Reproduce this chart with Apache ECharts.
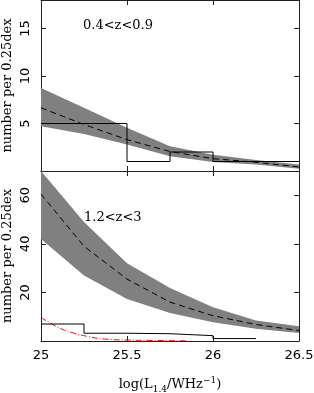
<!DOCTYPE html>
<html><head><meta charset="utf-8">
<script src="https://cdn.jsdelivr.net/npm/echarts@6/dist/echarts.min.js"></script>
<style>html,body{margin:0;padding:0;background:#fff}#c{width:314px;height:393px}</style>
</head><body><div id="c"></div>
<script>
// ---- data ----
const xNodes = [25, 25.25, 25.5, 25.75, 26, 26.25, 26.5];
const topHigh = [8.75, 6.65, 4.55, 2.6, 1.7, 1.15, 0.68];
const topLow  = [4.7, 3.9, 2.8, 1.55, 0.95, 0.68, 0.25];
const topDash = [6.65, 4.9, 3.3, 2.05, 1.3, 0.92, 0.42];
const topHistEdges  = [25, 25.5, 25.75, 26, 26.5];
const topHistCounts = [5, 1, 2, 1];

const botHigh = [77, 49, 32, 21.8, 13.9, 8.4, 6.1];
const botLow  = [42, 27, 17.3, 11.5, 7.7, 5.0, 3.3];
const botDash = [60.5, 39, 25.5, 16, 10.4, 6.8, 4.3];
const botHistEdges  = [25, 25.25, 25.5, 25.75, 26, 26.25];
const botHistCounts = [7, 3.2, 3.0, 2.2, 1.0];
const redX = [25, 25.1, 25.18, 25.27, 25.37, 25.5, 25.65, 25.85];
const redY = [9.7, 5.6, 3.5, 1.9, 0.8, 0.4, 0.2, 0.1];

const xTicks = ['25', '25.5', '26', '26.5'];
const topYTicks = ['5', '10', '15'];
const botYTicks = ['20', '40', '60'];
const topLabel = '0.4<z<0.9';
const botLabel = '1.2<z<3';
const yTitle = 'number per 0.25dex';

// ---- helpers ----
const pairs = (xs, ys) => xs.map((x, i) => [x, ys[i]]);
function histData(edges, counts) {
  const d = counts.map((c, i) => [edges[i], c]);
  d.push([edges[edges.length - 1], counts[counts.length - 1]]);
  return d;
}
const AX = '#222';
const SERIF = 'DejaVu Serif';
const SANS = 'DejaVu Sans';

function xAx(grid, pos, labels, name) {
  return {
    type: 'value', gridIndex: grid, position: pos, min: 25, max: 26.5, interval: 0.5,
    axisLine: { show: true, onZero: false, lineStyle: { color: AX, width: 1 } },
    axisTick: { show: true, inside: true, length: 5, lineStyle: { color: AX } },
    splitLine: { show: false },
    axisLabel: labels ? {
      show: true, margin: 8, color: '#000', fontFamily: SANS, fontSize: 13,
      formatter: v => { const s = String(v); return xTicks.includes(s) ? s : ''; }
    } : { show: false },
    name: name || '',
    nameLocation: 'middle', nameGap: 35, nameMoveOverlap: false,
    nameTextStyle: name ? {
      fontFamily: SERIF, fontSize: 13, color: '#000',
      rich: {
        n: { fontFamily: SERIF, fontSize: 13, color: '#000' },
        sub: { fontFamily: SERIF, fontSize: 9, color: '#000', padding: [9, 0, 0, 0] },
        sup: { fontFamily: SERIF, fontSize: 9, color: '#000', padding: [0, 0, 9, 0] }
      }
    } : {}
  };
}
function yAx(grid, pos, max, interval, labels, name) {
  return {
    type: 'value', gridIndex: grid, position: pos, min: 0, max: max, interval: interval,
    axisLine: { show: true, onZero: false, lineStyle: { color: AX, width: 1 } },
    axisTick: { show: true, inside: true, length: 5, lineStyle: { color: AX } },
    splitLine: { show: false },
    axisLabel: labels ? {
      show: true, rotate: 90, margin: 9, color: '#000', fontFamily: SANS, fontSize: 13,
      formatter: v => { const s = String(v); return labels.includes(s) ? s : ''; }
    } : { show: false },
    name: name || '', nameLocation: 'middle', nameGap: 27, nameRotate: 90, nameMoveOverlap: false,
    nameTextStyle: { fontFamily: SERIF, fontSize: 13, color: '#000' }
  };
}

function bandSeries(xi, yi, lo, hi) {
  const rows = xNodes.map((x, i) => [x, lo[i], hi[i]]);
  return {
    type: 'custom', xAxisIndex: xi, yAxisIndex: yi, data: rows, clip: true, silent: true, z: 1,
    encode: { x: 0, y: [1, 2] },
    renderItem: function (params, api) {
      if (params.dataIndex !== 0) return null;
      const upper = rows.map(r => api.coord([r[0], r[2]]));
      const lower = rows.map(r => api.coord([r[0], r[1]])).reverse();
      const pts = echarts.graphic.clipPointsByRect(upper.concat(lower), params.coordSys);
      return { type: 'polygon', shape: { points: pts }, style: { fill: '#808080', stroke: null } };
    }
  };
}
function dashSeries(xi, yi, ys) {
  return { type: 'line', xAxisIndex: xi, yAxisIndex: yi, data: pairs(xNodes, ys), showSymbol: false,
    lineStyle: { color: '#000', width: 1, type: [6, 4] }, clip: true, z: 3 };
}
function histSeries(xi, yi, edges, counts) {
  return { type: 'line', xAxisIndex: xi, yAxisIndex: yi, step: 'end', data: histData(edges, counts),
    showSymbol: false, lineStyle: { color: '#000', width: 1 }, clip: true, z: 4 };
}

const chart = echarts.init(document.getElementById('c'), null, { renderer: 'canvas' });
chart.setOption({
  animation: false,
  backgroundColor: '#fff',
  grid: [
    { left: 41, top: 0, width: 258, height: 171, containLabel: false, outerBoundsMode: 'none' },
    { left: 41, top: 171, width: 258, height: 170, containLabel: false, outerBoundsMode: 'none' }
  ],
  xAxis: [
    xAx(0, 'bottom', false),
    xAx(0, 'top', false),
    xAx(1, 'bottom', true, '{n|log(L}{sub|1.4}{n|/WHz}{sup|\u22121}{n|)}'),
    xAx(1, 'top', false)
  ],
  yAxis: [
    yAx(0, 'left', 18, 5, topYTicks, yTitle),
    yAx(0, 'right', 18, 5, null),
    yAx(1, 'left', 70, 20, botYTicks, yTitle),
    yAx(1, 'right', 70, 20, null)
  ],
  series: [
    bandSeries(0, 0, topLow, topHigh),
    dashSeries(0, 0, topDash),
    histSeries(0, 0, topHistEdges, topHistCounts),
    bandSeries(2, 2, botLow, botHigh),
    dashSeries(2, 2, botDash),
    histSeries(2, 2, botHistEdges, botHistCounts),
    { type: 'line', xAxisIndex: 2, yAxisIndex: 2, data: pairs(redX, redY), showSymbol: false, smooth: true,
      lineStyle: { color: '#ff0000', width: 1, type: [6, 2, 1, 2] }, clip: true, z: 2 }
  ],
  graphic: [
    { type: 'text', left: 83, top: 19, style: { text: topLabel, fontFamily: SERIF, fontSize: 13, fill: '#000' } },
    { type: 'text', left: 84, top: 211, style: { text: botLabel, fontFamily: SERIF, fontSize: 13, fill: '#000' } }
  ]
});
</script>
</body></html>
